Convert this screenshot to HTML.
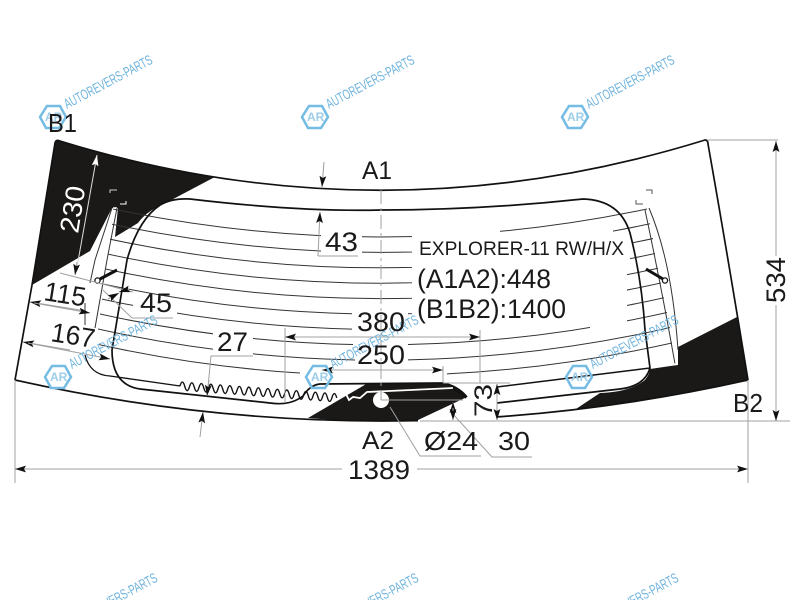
<!DOCTYPE html>
<html><head><meta charset="utf-8"><style>
html,body{margin:0;padding:0;background:#fff}
svg{display:block}
text{font-family:"Liberation Sans",sans-serif;fill:#1a1a1a}
.d{fill:none;stroke:#a0a0a0;stroke-width:1}
.l{fill:none;stroke:#333;stroke-width:1}
.t{fill:none;stroke:#111;stroke-width:1.7}
.w text{fill:#6fb3dd;font-size:14px}
.w polygon{fill:none;stroke:#74bce4;stroke-width:2.5}
.w .a{font-size:12px;font-weight:bold;fill:#9ccde9}
</style></head><body>
<svg width="800" height="600" viewBox="0 0 800 600" xmlns="http://www.w3.org/2000/svg">
<defs>
<marker id="k" markerUnits="userSpaceOnUse" markerWidth="12" markerHeight="8" refX="11" refY="4" orient="auto"><path d="M0,0.6 L11,4 L0,7.4 L2,4 Z" fill="#111"/></marker>
<marker id="kw" markerUnits="userSpaceOnUse" markerWidth="12" markerHeight="8" refX="11" refY="4" orient="auto"><path d="M0,0.6 L11,4 L0,7.4 L2,4 Z" fill="#fff"/></marker>
<clipPath id="c0"><rect x="113" y="0" width="208" height="600"/><rect x="362" y="0" width="50" height="600"/><rect x="500" y="0" width="147" height="600"/></clipPath>
<clipPath id="c1"><rect x="112" y="0" width="209" height="600"/><rect x="362" y="0" width="50" height="600"/><rect x="613" y="0" width="37" height="600"/></clipPath>
<clipPath id="c2"><rect x="110" y="0" width="302" height="600"/><rect x="632" y="0" width="21" height="600"/></clipPath>
<clipPath id="c3"><rect x="108" y="0" width="304" height="600"/><rect x="630" y="0" width="25" height="600"/></clipPath>
<clipPath id="c4"><rect x="106" y="0" width="306" height="600"/><rect x="627" y="0" width="31" height="600"/></clipPath>
<clipPath id="c5"><rect x="104" y="0" width="248" height="600"/><rect x="408" y="0" width="4" height="600"/><rect x="627" y="0" width="34" height="600"/></clipPath>
<clipPath id="c6"><rect x="102" y="0" width="31" height="600"/><rect x="177" y="0" width="175" height="600"/><rect x="627" y="0" width="37" height="600"/></clipPath>
<clipPath id="c7"><rect x="100" y="0" width="113" height="600"/><rect x="253" y="0" width="100" height="600"/><rect x="408" y="0" width="182" height="600"/><rect x="627" y="0" width="40" height="600"/></clipPath>
<clipPath id="c8"><rect x="98" y="0" width="115" height="600"/><rect x="253" y="0" width="102" height="600"/><rect x="408" y="0" width="262" height="600"/></clipPath>
<clipPath id="c9"><rect x="98" y="0" width="202" height="600"/><rect x="447" y="0" width="225" height="600"/></clipPath>
</defs>

<!-- black ceramic areas -->
<path fill="#1b1917" d="M55,141 Q56,139 60,141 Q137.3,164.8 214.6,177.1 L160,206 Q146,212 138,223 L115,237 L118,208 L112,208 L90,251 L32,285 Z"/>
<path fill="#1b1917" d="M737,317 L748,380 Q661.5,399.4 575,409.6 L600,393 Q630,392 645,380 Q650,374 650,368 L678,365 L678,347 Z"/>
<path fill="#1b1917" d="M308,418 L368,383 L443,383 Q458,386 467,397 L418,420 Q363,423 308,418 Z"/>
<path fill="#fff" d="M650,365 L672,352 L675,363 Z"/>
<circle cx="381" cy="400" r="8" fill="#fff"/>

<!-- heater lines -->
<g class="l">
<path clip-path="url(#c0)" d="M90,204 Q380,270 670,204"/>
<path clip-path="url(#c1)" d="M90,219.4 Q380,285.4 670,219.4"/>
<path clip-path="url(#c2)" d="M90,234.8 Q380,300.8 670,234.8"/>
<path clip-path="url(#c3)" d="M90,250.2 Q380,316.2 670,250.2"/>
<path clip-path="url(#c4)" d="M90,265.6 Q380,331.6 670,265.6"/>
<path clip-path="url(#c5)" d="M90,281 Q380,347 670,281"/>
<path clip-path="url(#c6)" d="M90,296.4 Q380,362.4 670,296.4"/>
<path clip-path="url(#c7)" d="M90,311.8 Q380,377.8 670,311.8"/>
<path clip-path="url(#c8)" d="M90,327.2 Q380,393.2 672,327.2"/>
<path clip-path="url(#c9)" d="M90,342.6 Q380,408.6 674,342.6"/>
</g>

<!-- side strips -->
<path class="l" d="M112,208 L95,260 L90,283"/>
<path d="M113,208 L117,208" stroke="#fff" stroke-width="1.5"/>
<path class="l" d="M117,208 L107,260 L95,328"/>
<path class="l" d="M85,303 L85,325"/>
<path class="l" d="M645,210 Q662,290 675,364"/>
<path class="l" d="M649,208 Q672,262 678,350"/>
<path d="M650,368 L677,364" stroke="#fff" stroke-width="2"/>

<!-- glass outline -->
<g class="t">
<path d="M15,380 L32,285 L55,143 Q56,139 60,141 Q382,240 705,140 Q708,140 708,144 Q725,240 748,380"/>
<path d="M15,380 Q216.6,425.1 418,420.6"/>
<path d="M497,416.9 Q622.3,408.1 748,380"/>
<path d="M160,205 Q172,198 190,199 Q300,212 381,210 Q480,210 583,199 Q620,200 630,233 Q642,280 645,330 L650,368 Q645,386 620,389 L497,403"/>
<path d="M160,205 Q138,220 127,260 L112,350 Q112,385 140,389 L270,403 Q290,406 303,396 Q310,385 320,384 L443,383 Q458,386 467,397"/>
<path d="M497,387 L650,368" stroke-width="1.5"/>
<path d="M85,355 Q90,375 110,376 L180,386" stroke-width="1.3"/>
<path d="M180,386 q2.4,-8 4.75,.36 t4.75,.36 t4.75,.36 t4.75,.36 t4.75,.36 t4.75,.36 t4.75,.36 t4.75,.36 t4.75,.36 t4.75,.36 t4.75,.36 t4.75,.36 t4.75,.36 t4.75,.36 t4.75,.36 t4.75,.36 t4.75,.36 t4.75,.36 t4.75,.36 t4.75,.36 t4.75,.36 t4.75,.36 t4.75,.36 t4.75,.36 t4.75,.36 t4.75,.36 t4.75,.36 t4.75,.36 t4.75,.36 t4.75,.36 t4.75,.36 t4.75,.36 t4.75,.36" stroke-width="1.4"/>
</g>
<path d="M342,396 L346,394 L349,400 L353,397 L360,398 L367,392 L453,388" fill="none" stroke="#fff" stroke-width="1.8"/>
<path d="M453,388 L466,398" stroke="#111" stroke-width="1.5"/>

<!-- terminals -->
<path d="M100,279 L117,270" stroke="#111" stroke-width="3"/>
<circle cx="97.500" cy="280.500" r="2.600" fill="#fff" stroke="#111" stroke-width="1.300"/>
<path d="M646,269 L663,279" stroke="#111" stroke-width="3"/>
<circle cx="665" cy="280.500" r="2.600" fill="#fff" stroke="#111" stroke-width="1.300"/>

<!-- corner brackets -->
<path d="M110,193 L110,190 L117,190" fill="none" stroke="#ccc" stroke-width="1"/>
<path d="M120,204 L126,204 L126,201" fill="none" stroke="#fff" stroke-width="1"/>
<path d="M646,190 L652,190 L652,194" fill="none" stroke="#555" stroke-width="1"/>
<path d="M636,200 L636,204 L643,204" fill="none" stroke="#555" stroke-width="1"/>

<!-- dimensions -->
<path class="d" d="M381,190 V400" stroke-dasharray="14 4 3 4"/>
<path class="d" d="M324,162 L322,187" marker-end="url(#k)"/>
<path class="d" d="M318,256 L320,212" marker-end="url(#k)"/>
<path class="d" d="M318,256 H358" stroke-width="1.200"/>
<path d="M77,267 L97,155" fill="none" stroke="#ddd" stroke-width="1" marker-end="url(#kw)"/>
<path class="d" d="M77,262 L75,275" marker-end="url(#k)"/>
<path class="d" d="M60,273 L133,292"/>
<path class="d" d="M86,311 L30,302" marker-end="url(#k)"/>
<path class="d" d="M34,303 L90,313" marker-end="url(#k)"/>
<path class="d" d="M70,350 L23,342" marker-end="url(#k)"/>
<path class="d" d="M28,343 L110,359" marker-end="url(#k)"/>
<path class="d" d="M103,290 L132,318 H173"/>
<path class="d" d="M108,299 L119,293" marker-end="url(#k)"/>
<path class="d" d="M129,289 L119,292" marker-end="url(#k)"/>
<path class="d" d="M208,387 L211,356 H253"/>
<path class="d" d="M209,380 L207,396" marker-end="url(#k)"/>
<path class="d" d="M200,437 L203,412" marker-end="url(#k)"/>
<path class="d" d="M15,380 V483 M748,380 V483"/>
<path class="d" d="M342,469 H15" marker-end="url(#k)"/>
<path class="d" d="M417,469 H748" marker-end="url(#k)"/>
<path class="d" d="M707,140 H778 M420,421 H790"/>
<path class="d" d="M776,256 V141" marker-end="url(#k)"/>
<path class="d" d="M776,305 V421" marker-end="url(#k)"/>
<path class="d" d="M285,328 V403 M480,330 V383 M443,366 V383"/>
<path class="d" d="M380,337 H285" marker-end="url(#k)"/>
<path class="d" d="M380,337 H480" marker-end="url(#k)"/>
<path class="d" d="M380,370 H322" marker-end="url(#k)"/>
<path class="d" d="M380,370 H443" marker-end="url(#k)"/>
<path class="d" d="M390,407 L420,456 H481"/>
<path class="d" d="M452,413 L492,457 H532"/>
<path class="d" d="M381,400 H463 M443,383 H510"/>
<path class="d" d="M453,412 V402" marker-end="url(#k)"/>
<path class="d" d="M453,408 V420" marker-end="url(#k)"/>
<path class="d" d="M497,400 V384" marker-end="url(#k)"/>
<path class="d" d="M497,400 V420" marker-end="url(#k)"/>

<!-- watermarks -->
<g class="w" transform="translate(53,117)"><polygon points="-13,0 -6,-11 7,-11 13,0 6,11 -7,11"/><text class="a" x="-8" y="4">AR</text><text x="14" y="-8" transform="rotate(-28 14 -8)" textLength="98" lengthAdjust="spacingAndGlyphs">AUTOREVERS-PARTS</text></g>
<g class="w" transform="translate(315,117)"><polygon points="-13,0 -6,-11 7,-11 13,0 6,11 -7,11"/><text class="a" x="-8" y="4">AR</text><text x="14" y="-8" transform="rotate(-28 14 -8)" textLength="98" lengthAdjust="spacingAndGlyphs">AUTOREVERS-PARTS</text></g>
<g class="w" transform="translate(575,117)"><polygon points="-13,0 -6,-11 7,-11 13,0 6,11 -7,11"/><text class="a" x="-8" y="4">AR</text><text x="14" y="-8" transform="rotate(-28 14 -8)" textLength="98" lengthAdjust="spacingAndGlyphs">AUTOREVERS-PARTS</text></g>
<g class="w" transform="translate(58,377)"><polygon points="-13,0 -6,-11 7,-11 13,0 6,11 -7,11"/><text class="a" x="-8" y="4">AR</text><text x="14" y="-8" transform="rotate(-28 14 -8)" textLength="98" lengthAdjust="spacingAndGlyphs">AUTOREVERS-PARTS</text></g>
<g class="w" transform="translate(319,377)"><polygon points="-13,0 -6,-11 7,-11 13,0 6,11 -7,11"/><text class="a" x="-8" y="4">AR</text><text x="14" y="-8" transform="rotate(-28 14 -8)" textLength="98" lengthAdjust="spacingAndGlyphs">AUTOREVERS-PARTS</text></g>
<g class="w" transform="translate(579,377)"><polygon points="-13,0 -6,-11 7,-11 13,0 6,11 -7,11"/><text class="a" x="-8" y="4">AR</text><text x="14" y="-8" transform="rotate(-28 14 -8)" textLength="98" lengthAdjust="spacingAndGlyphs">AUTOREVERS-PARTS</text></g>
<g class="w" transform="translate(58,635)"><text x="14" y="-8" transform="rotate(-28 14 -8)" textLength="98" lengthAdjust="spacingAndGlyphs">AUTOREVERS-PARTS</text></g>
<g class="w" transform="translate(319,635)"><text x="14" y="-8" transform="rotate(-28 14 -8)" textLength="98" lengthAdjust="spacingAndGlyphs">AUTOREVERS-PARTS</text></g>
<g class="w" transform="translate(579,635)"><text x="14" y="-8" transform="rotate(-28 14 -8)" textLength="98" lengthAdjust="spacingAndGlyphs">AUTOREVERS-PARTS</text></g>

<!-- labels -->
<text x="48" y="132" font-size="26" textLength="29" lengthAdjust="spacingAndGlyphs">B1</text>
<text x="733" y="412" font-size="26" textLength="30" lengthAdjust="spacingAndGlyphs">B2</text>
<text x="362" y="179" font-size="25" textLength="30" lengthAdjust="spacingAndGlyphs">A1</text>
<text x="362" y="449" font-size="25" textLength="32" lengthAdjust="spacingAndGlyphs">A2</text>
<text x="325" y="251" font-size="27" textLength="33" lengthAdjust="spacingAndGlyphs">43</text>
<text x="419" y="255" font-size="19" textLength="205" lengthAdjust="spacingAndGlyphs">EXPLORER-11 RW/H/X</text>
<text x="417" y="288" font-size="26.500" textLength="134" lengthAdjust="spacingAndGlyphs">(A1A2):448</text>
<text x="417" y="318" font-size="26.500" textLength="149" lengthAdjust="spacingAndGlyphs">(B1B2):1400</text>
<text x="357" y="331" font-size="27" textLength="48" lengthAdjust="spacingAndGlyphs">380</text>
<text x="357" y="364" font-size="27" textLength="48" lengthAdjust="spacingAndGlyphs">250</text>
<text x="217" y="351" font-size="27" textLength="31" lengthAdjust="spacingAndGlyphs">27</text>
<text x="140" y="312" font-size="27" textLength="32" lengthAdjust="spacingAndGlyphs">45</text>
<text x="348" y="479" font-size="27" textLength="62" lengthAdjust="spacingAndGlyphs">1389</text>
<text x="424" y="450" font-size="26" textLength="54" lengthAdjust="spacingAndGlyphs">Ø24</text>
<text x="498" y="450" font-size="26" textLength="32" lengthAdjust="spacingAndGlyphs">30</text>
<text transform="translate(785,303) rotate(-90)" font-size="27" textLength="46" lengthAdjust="spacingAndGlyphs">534</text>
<text transform="translate(492,417) rotate(-90)" font-size="25" textLength="33" lengthAdjust="spacingAndGlyphs">73</text>
<text transform="translate(43,300) rotate(9)" font-size="27" textLength="42" lengthAdjust="spacingAndGlyphs">115</text>
<text transform="translate(50,341) rotate(9)" font-size="27" textLength="44" lengthAdjust="spacingAndGlyphs">167</text>
<text transform="translate(78,234) rotate(-81)" font-size="27" textLength="47" lengthAdjust="spacingAndGlyphs" style="fill:#fff">230</text>
</svg>
</body></html>
